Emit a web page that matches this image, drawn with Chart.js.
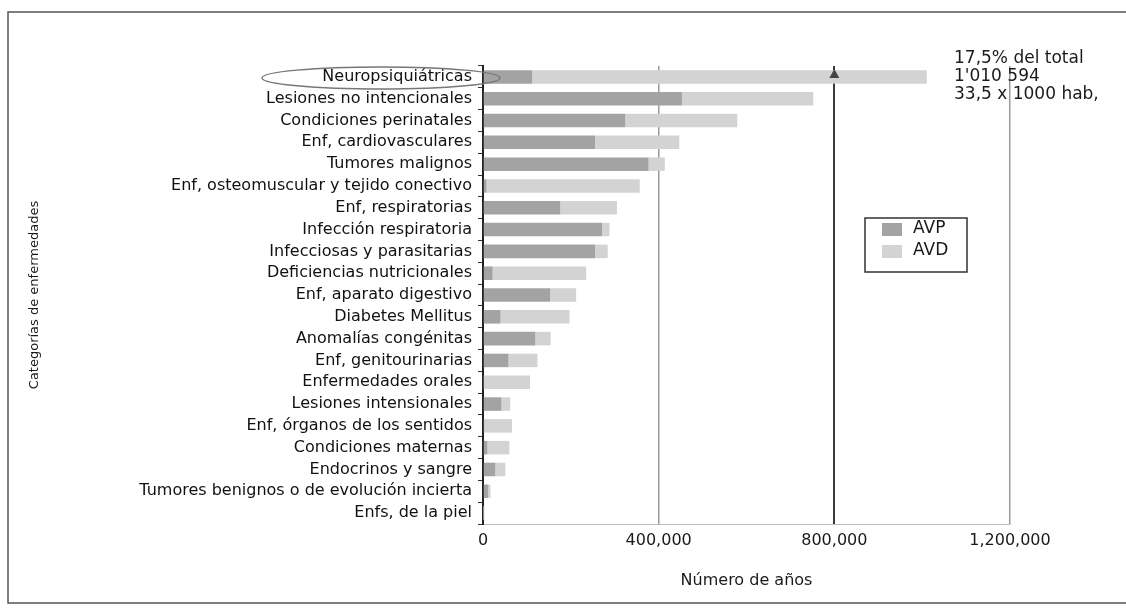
<!DOCTYPE html>
<html><head><meta charset="utf-8">
<script src="https://cdn.jsdelivr.net/npm/chart.js@4.4.0/dist/chart.umd.min.js"></script>
<style>html,body{margin:0;padding:0;background:#fff;overflow:hidden}canvas{display:block}</style>
</head><body><canvas id="c" width="1126" height="609"></canvas>
<script>
const categories = [
  "Neuropsiquiátricas","Lesiones no intencionales","Condiciones perinatales","Enf, cardiovasculares",
  "Tumores malignos","Enf, osteomuscular y tejido conectivo","Enf, respiratorias","Infección respiratoria",
  "Infecciosas y parasitarias","Deficiencias nutricionales","Enf, aparato digestivo","Diabetes Mellitus",
  "Anomalías congénitas","Enf, genitourinarias","Enfermedades orales","Lesiones intensionales",
  "Enf, órganos de los sentidos","Condiciones maternas","Endocrinos y sangre",
  "Tumores benignos o de evolución incierta","Enfs, de la piel"
];
const avp = [112000,453000,324000,255000,377000,8000,176000,271000,255000,22000,153000,40000,119000,58000,0,42000,3000,10000,28000,12000,1000];
const avd = [898594,299000,255000,192000,37000,349000,129000,17000,29000,213000,59000,157000,35000,66000,107000,20000,63000,50000,23000,5000,2000];
const xTickValues = [0,400000,800000,1200000];
const seriesNames = ["AVP","AVD"];
const seriesColors = ["#a3a3a3","#d3d3d3"];
const noteLines = ["17,5% del total","1'010 594","33,5 x 1000 hab,"];
const xTitle = "Número de años";
const yTitle = "Categorías de enfermedades";

const FONT = "'DejaVu Sans', sans-serif";

const extras = {
  id: 'extras',
  beforeDraw(chart){
    const ctx = chart.ctx;
    ctx.save();
    ctx.fillStyle = '#fff';
    ctx.fillRect(0,0,chart.width,chart.height);
    ctx.strokeStyle = '#555';
    ctx.lineWidth = 1.5;
    ctx.beginPath();
    ctx.moveTo(1130,12); ctx.lineTo(8,12); ctx.lineTo(8,603); ctx.lineTo(1130,603);
    ctx.stroke();
    ctx.restore();
  },
  afterDraw(chart){
    const ctx = chart.ctx;
    const xs = chart.scales.x, ys = chart.scales.y;
    ctx.save();
    // ellipse around first category label
    const y0 = ys.getPixelForValue(0);
    ctx.strokeStyle = '#777';
    ctx.lineWidth = 1.5;
    ctx.beginPath();
    ctx.ellipse(381, y0 + 1, 119, 11, 0, 0, Math.PI*2);
    ctx.stroke();
    // arrow at 800k
    const x8 = xs.getPixelForValue(800000);
    ctx.fillStyle = '#444';
    ctx.beginPath();
    ctx.moveTo(x8, y0 - 8); ctx.lineTo(x8 - 5, y0 + 1); ctx.lineTo(x8 + 5, y0 + 1); ctx.closePath();
    ctx.fill();
    // notes
    ctx.fillStyle = '#1a1a1a';
    ctx.font = "17px " + FONT;
    ctx.textBaseline = 'middle';
    ctx.textAlign = 'left';
    noteLines.forEach((t,i)=> ctx.fillText(t, 954, y0 - 18 + i*18));
    // legend
    ctx.strokeStyle = '#333';
    ctx.lineWidth = 1.5;
    ctx.fillStyle = '#fff';
    ctx.fillRect(865, 218, 102, 54);
    ctx.strokeRect(865, 218, 102, 54);
    ctx.font = "17px " + FONT;
    seriesNames.forEach((n,i)=>{
      const yy = 229 + i*22;
      ctx.fillStyle = seriesColors[i];
      ctx.fillRect(882, yy - 6, 20, 13);
      ctx.fillStyle = '#1a1a1a';
      ctx.fillText(n, 913, yy);
    });
    ctx.restore();
  }
};

new Chart(document.getElementById('c'), {
  type: 'bar',
  data: {
    labels: categories,
    datasets: [
      {label: seriesNames[0], data: avp, backgroundColor: seriesColors[0], barPercentage: 0.62, categoryPercentage: 1},
      {label: seriesNames[1], data: avd, backgroundColor: seriesColors[1], barPercentage: 0.62, categoryPercentage: 1}
    ]
  },
  options: {
    indexAxis: 'y',
    responsive: false,
    animation: false,
    devicePixelRatio: 1,
    layout: {padding: {left: 27, top: 66, right: 116, bottom: 19}},
    plugins: {legend: {display: false}, tooltip: {enabled: false}},
    scales: {
      x: {
        stacked: true, min: 0, max: 1200000,
        afterBuildTicks(scale){ scale.ticks = xTickValues.map(v=>({value:v})); },
        afterFit(scale){ scale.height = 66; },
        grid: {
          drawTicks: false,
          color: c => c.tick && c.tick.value === 800000 ? '#3a3a3a' : (c.tick && c.tick.value === 0 ? 'rgba(0,0,0,0)' : '#9a9a9a'),
          lineWidth: c => c.tick && c.tick.value === 800000 ? 2 : 1.5
        },
        border: {display: true, color: '#bbb', width: 1},
        ticks: {
          padding: 7, color: '#1a1a1a', font: {size: 16, family: FONT},
          callback: v => v.toLocaleString('en-US')
        },
        title: {display: true, text: xTitle, color: '#1a1a1a', font: {size: 16, family: FONT}, padding: {top: 0, bottom: 0}}
      },
      y: {
        stacked: true,
        afterFit(scale){ scale.width = 456; },
        grid: {drawOnChartArea: false, drawTicks: true, tickLength: 5, color: '#333', offset: true},
        border: {display: true, color: '#222', width: 2},
        ticks: {padding: 6, color: '#111', font: {size: 16, family: FONT}, autoSkip: false},
        title: {display: true, text: yTitle, color: '#1a1a1a', font: {size: 13, family: FONT}, padding: {top: 0, bottom: 0}}
      }
    }
  },
  plugins: [extras]
});
</script>
</body></html>
